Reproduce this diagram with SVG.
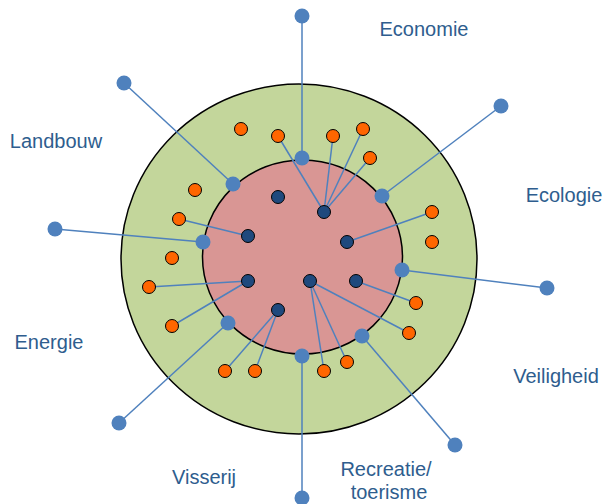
<svg xmlns="http://www.w3.org/2000/svg" width="602" height="504" viewBox="0 0 602 504">
<style>
.lbl{font-family:"Liberation Sans",Arial,sans-serif;font-size:20px;fill:#2e5d8e;text-anchor:middle}
.ln{stroke:#4f81bd;stroke-width:1.5;fill:none}
.pin{fill:#4f81bd}
.dk{fill:#1f497d;stroke:#000;stroke-width:1}
.or{fill:#ff6600;stroke:#000;stroke-width:1}
</style>
<rect width="602" height="504" fill="#fff"/>
<g id="outer-ring"><ellipse cx="299" cy="259" rx="178" ry="175" fill="#c3d69b" stroke="#000" stroke-width="1.5"/></g>
<g id="inner-core"><ellipse cx="302.5" cy="257" rx="100" ry="97" fill="#d99694" stroke="#000" stroke-width="1.5"/></g>
<g id="connectors">
<line class="ln" x1="302" y1="16" x2="302" y2="158"/>
<line class="ln" x1="124" y1="83" x2="233" y2="184"/>
<line class="ln" x1="55" y1="229" x2="203" y2="242"/>
<line class="ln" x1="119" y1="423" x2="228" y2="323"/>
<line class="ln" x1="302" y1="356" x2="302" y2="498"/>
<line class="ln" x1="455" y1="445" x2="362" y2="336"/>
<line class="ln" x1="547" y1="288" x2="402" y2="270"/>
<line class="ln" x1="501" y1="106" x2="382" y2="196"/>
<line class="ln" x1="324" y1="212" x2="278" y2="136"/>
<line class="ln" x1="324" y1="212" x2="333" y2="136"/>
<line class="ln" x1="324" y1="212" x2="363" y2="129"/>
<line class="ln" x1="324" y1="212" x2="370" y2="158"/>
<line class="ln" x1="248" y1="236" x2="179" y2="219"/>
<line class="ln" x1="248" y1="281" x2="149" y2="287"/>
<line class="ln" x1="248" y1="281" x2="172" y2="326"/>
<line class="ln" x1="278" y1="310" x2="225" y2="371"/>
<line class="ln" x1="278" y1="310" x2="255" y2="371"/>
<line class="ln" x1="310" y1="281" x2="324" y2="371"/>
<line class="ln" x1="310" y1="281" x2="347" y2="362"/>
<line class="ln" x1="310" y1="281" x2="409" y2="333"/>
<line class="ln" x1="356" y1="281" x2="416" y2="303"/>
<line class="ln" x1="347" y1="242" x2="432" y2="212"/>
</g>
<g id="inner-nodes">
<circle class="dk" cx="278" cy="197" r="6.5"/>
<circle class="dk" cx="248" cy="236" r="6.5"/>
<circle class="dk" cx="248" cy="281" r="6.5"/>
<circle class="dk" cx="278" cy="310" r="6.5"/>
<circle class="dk" cx="324" cy="212" r="6.5"/>
<circle class="dk" cx="347" cy="242" r="6.5"/>
<circle class="dk" cx="310" cy="281" r="6.5"/>
<circle class="dk" cx="356" cy="281" r="6.5"/>
</g>
<g id="ring-nodes">
<circle class="or" cx="241" cy="129" r="6.5"/>
<circle class="or" cx="278" cy="136" r="6.5"/>
<circle class="or" cx="333" cy="136" r="6.5"/>
<circle class="or" cx="363" cy="129" r="6.5"/>
<circle class="or" cx="370" cy="158" r="6.5"/>
<circle class="or" cx="195" cy="190" r="6.5"/>
<circle class="or" cx="179" cy="219" r="6.5"/>
<circle class="or" cx="172" cy="258" r="6.5"/>
<circle class="or" cx="149" cy="287" r="6.5"/>
<circle class="or" cx="172" cy="326" r="6.5"/>
<circle class="or" cx="225" cy="371" r="6.5"/>
<circle class="or" cx="255" cy="371" r="6.5"/>
<circle class="or" cx="324" cy="371" r="6.5"/>
<circle class="or" cx="347" cy="362" r="6.5"/>
<circle class="or" cx="409" cy="333" r="6.5"/>
<circle class="or" cx="416" cy="303" r="6.5"/>
<circle class="or" cx="432" cy="212" r="6.5"/>
<circle class="or" cx="432" cy="242" r="6.5"/>
</g>
<g id="pins">
<circle class="pin" cx="302" cy="16" r="7.5"/>
<circle class="pin" cx="302" cy="158" r="7.5"/>
<circle class="pin" cx="124" cy="83" r="7.5"/>
<circle class="pin" cx="233" cy="184" r="7.5"/>
<circle class="pin" cx="55" cy="229" r="7.5"/>
<circle class="pin" cx="203" cy="242" r="7.5"/>
<circle class="pin" cx="119" cy="423" r="7.5"/>
<circle class="pin" cx="228" cy="323" r="7.5"/>
<circle class="pin" cx="302" cy="356" r="7.5"/>
<circle class="pin" cx="302" cy="498" r="7.5"/>
<circle class="pin" cx="362" cy="336" r="7.5"/>
<circle class="pin" cx="455" cy="445" r="7.5"/>
<circle class="pin" cx="402" cy="270" r="7.5"/>
<circle class="pin" cx="547" cy="288" r="7.5"/>
<circle class="pin" cx="382" cy="196" r="7.5"/>
<circle class="pin" cx="501" cy="106" r="7.5"/>
</g>
<g id="labels">
<text class="lbl" x="424" y="36">Economie</text>
<text class="lbl" x="56" y="148">Landbouw</text>
<text class="lbl" x="564" y="202">Ecologie</text>
<text class="lbl" x="49" y="349">Energie</text>
<text class="lbl" x="556" y="383">Veiligheid</text>
<text class="lbl" x="204" y="484">Visserij</text>
<text class="lbl" x="386" y="476">Recreatie/</text>
<text class="lbl" x="389" y="499">toerisme</text>
</g>
</svg>
